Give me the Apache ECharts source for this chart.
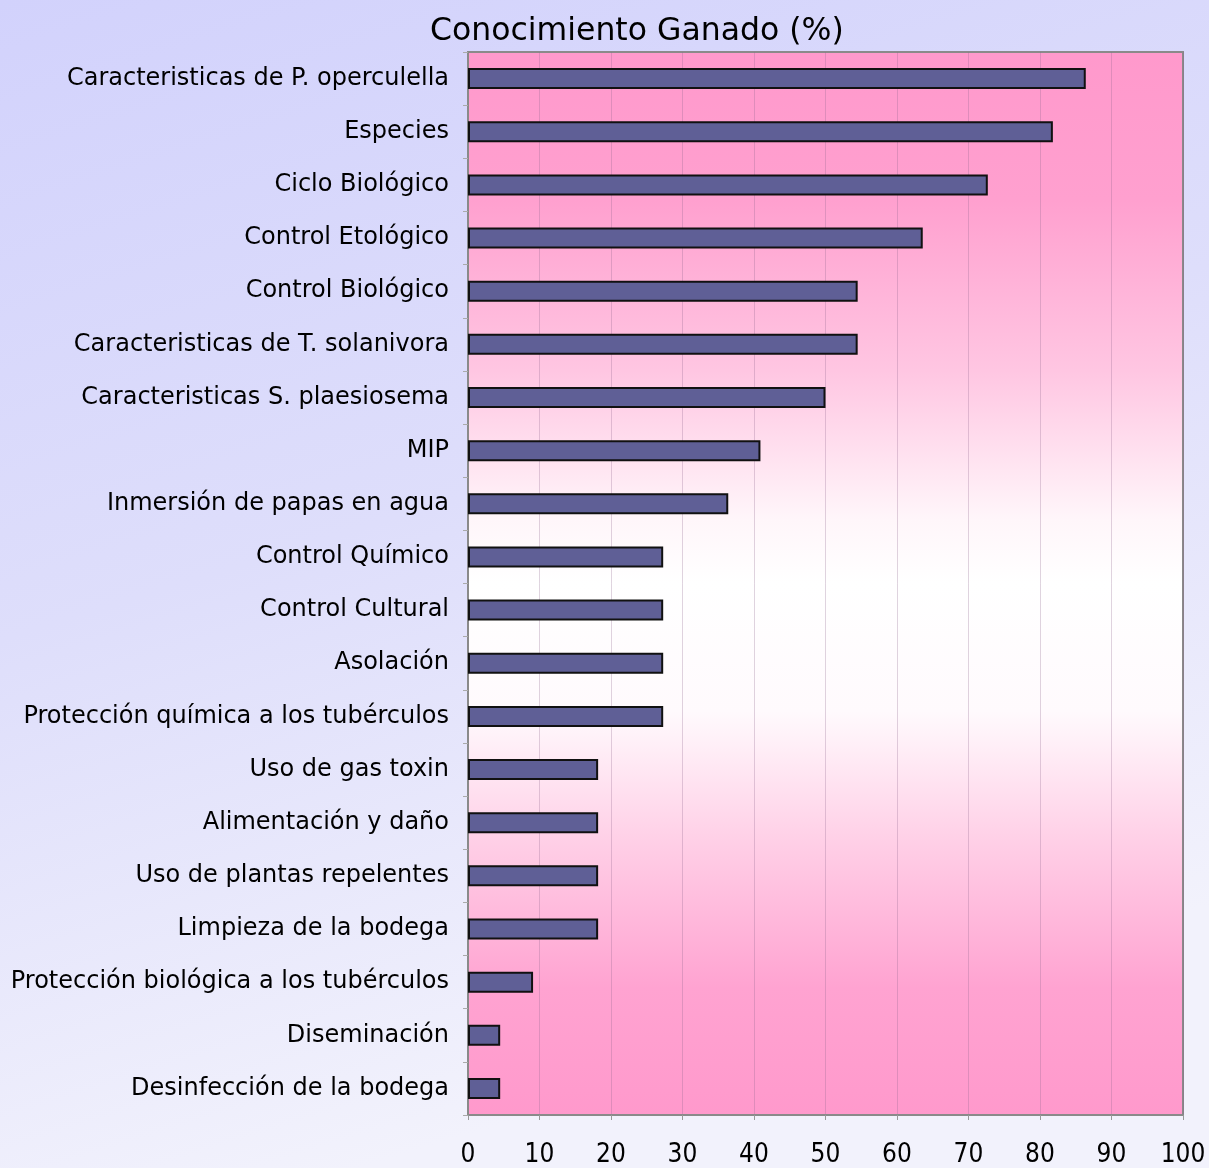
<!DOCTYPE html>
<html>
<head>
<meta charset="utf-8">
<script src="https://cdn.jsdelivr.net/npm/echarts@6/dist/echarts.min.js"></script>
<style>
  html, body { margin: 0; padding: 0; }
  #chart { width: 1209px; height: 1168px; }
</style>
</head>
<body>
<div id="chart"></div>
<script>
  // categories from top to bottom
  var temas = [
    'Caracteristicas de P. operculella',
    'Especies',
    'Ciclo Biológico',
    'Control Etológico',
    'Control Biológico',
    'Caracteristicas de T. solanivora',
    'Caracteristicas S. plaesiosema',
    'MIP',
    'Inmersión de papas en agua',
    'Control Químico',
    'Control Cultural',
    'Asolación',
    'Protección química a los tubérculos',
    'Uso de gas toxin',
    'Alimentación y daño',
    'Uso de plantas repelentes',
    'Limpieza de la bodega',
    'Protección biológica a los tubérculos',
    'Diseminación',
    'Desinfección de la bodega'
  ];
  // % conocimiento ganado
  var ganado = [86.4, 81.8, 72.7, 63.6, 54.5, 54.5, 50.0, 40.9, 36.4, 27.3,
                27.3, 27.3, 27.3, 18.2, 18.2, 18.2, 18.2, 9.1, 4.5, 4.5];

  var chart = echarts.init(document.getElementById('chart'));

  var option = {
    backgroundColor: new echarts.graphic.LinearGradient(0, 0, 0.3, 1, [
      { offset: 0, color: '#d2d2fc' },
      { offset: 0.5, color: '#dedefb' },
      { offset: 1, color: '#f2f2fc' }
    ]),
    title: {
      text: 'Conocimiento Ganado (%)',
      left: 425,
      top: 11,
      textStyle: {
        fontFamily: 'DejaVu Sans',
        fontSize: 31.5,
        fontWeight: 'normal',
        color: '#000'
      }
    },
    grid: {
      left: 468,
      right: 26,
      top: 52,
      bottom: 51,
      show: true,
      borderColor: '#8a8a8a',
      borderWidth: 2,
      backgroundColor: new echarts.graphic.LinearGradient(0, 0, 0, 1, [
        { offset: 0, color: '#ff99cc' },
        { offset: 0.14, color: '#ffa0cf' },
        { offset: 0.3, color: '#ffc6e2' },
        { offset: 0.44, color: '#fff6fa' },
        { offset: 0.5, color: '#ffffff' },
        { offset: 0.62, color: '#fffafd' },
        { offset: 0.74, color: '#ffd0e7' },
        { offset: 0.88, color: '#ffa3d1' },
        { offset: 1, color: '#ff99cc' }
      ])
    },
    xAxis: {
      type: 'value',
      min: 0,
      max: 100,
      interval: 10,
      axisLine: { show: true, lineStyle: { color: '#8a8a8a', width: 2 } },
      axisTick: { show: true, length: 5, lineStyle: { color: '#999' } },
      axisLabel: {
        margin: 27,
        fontFamily: "'DejaVu Sans Condensed', 'Liberation Sans Narrow', 'DejaVu Sans', sans-serif",
        fontSize: 26,
        color: '#000'
      },
      splitLine: {
        show: true,
        lineStyle: { color: 'rgba(140,100,140,0.28)', width: 1 }
      }
    },
    yAxis: {
      type: 'category',
      data: temas,
      inverse: true,
      axisLine: { show: true, lineStyle: { color: '#8a8a8a', width: 2 } },
      axisTick: { show: true, length: 5, lineStyle: { color: '#aaa' } },
      axisLabel: {
        margin: 19,
        fontFamily: 'DejaVu Sans',
        fontSize: 24,
        color: '#000'
      }
    },
    series: [
      {
        name: 'Conocimiento Ganado',
        type: 'bar',
        data: ganado,
        barWidth: 21,
        itemStyle: {
          color: '#5f5f96',
          borderColor: '#111',
          borderWidth: 2
        },
        silent: true
      }
    ]
  };

  chart.setOption(option);
</script>
</body>
</html>
